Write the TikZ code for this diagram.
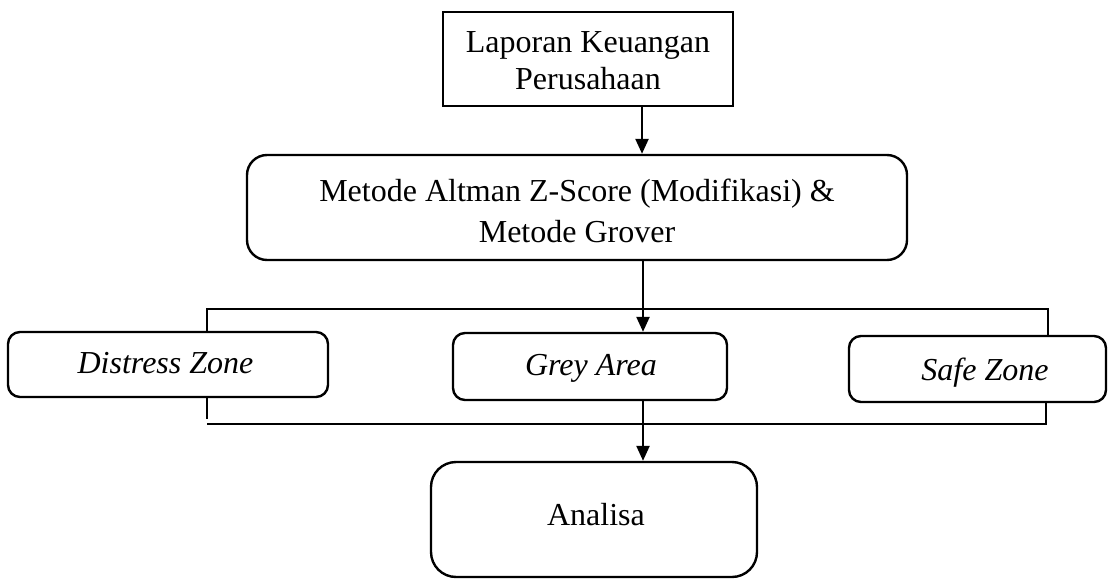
\documentclass[tikz,border=0pt]{standalone}
\usepackage{fontspec}
\setmainfont{Liberation Serif}
\usetikzlibrary{arrows.meta}
\begin{document}
\begin{tikzpicture}[x=1pt,y=-1pt,
  box/.style={draw,line width=2.4pt,inner sep=0pt},
  rbox/.style={box,rounded corners=#1},
  lbl/.style={anchor=base,align=center,inner sep=0pt},
  arr/.style={line width=2.4pt,-{Triangle[length=15pt,width=13pt]}},
  brk/.style={line width=1.4pt}]
\useasboundingbox (0,0) rectangle (1110,588);
% boxes
\node[box,minimum width=290pt,minimum height=94pt] (lap) at (588,59) {};
\node[rbox=20pt,minimum width=660pt,minimum height=105pt] (met) at (577,207.5) {};
\node[rbox=12pt,minimum width=320pt,minimum height=65pt] (dz) at (168,364.5) {};
\node[rbox=12pt,minimum width=274pt,minimum height=67pt] (ga) at (590,366.5) {};
\node[rbox=12pt,minimum width=257pt,minimum height=66pt] (sz) at (977.5,369) {};
\node[rbox=25pt,minimum width=326pt,minimum height=115pt] (ana) at (594,519.5) {};
% texts (base = baseline of the last line)
\node[lbl,font=\fontsize{32}{37}\selectfont] (lapT) at (588,90) {Laporan Keuangan\\Perusahaan};
\node[lbl,font=\fontsize{32}{41}\selectfont] (metT) at (577,242) {Metode Altman Z-Score (Modifikasi) \&\\Metode Grover};
\node[lbl,font=\fontsize{32}{37}\selectfont\itshape] (dzT) at (165.5,373) {Distress Zone};
\node[lbl,font=\fontsize{32}{37}\selectfont\itshape] (gaT) at (591,375) {Grey Area};
\node[lbl,font=\fontsize{32}{37}\selectfont\itshape] (szT) at (985,380) {Safe Zone};
\node[lbl,font=\fontsize{32}{37}\selectfont] (anaT) at (596,525) {Analisa};
% connectors
\coordinate (tl) at (207,309);
\coordinate (tr) at (1048,309);
\coordinate (bl) at (207,424);
\coordinate (br) at (1046,424);
\coordinate (a1) at (642,0);
\coordinate (a2) at (643,0);
\draw[arr] (lap.south -| a1) -- (met.north -| a1);
\draw[arr] (met.south -| a2) -- (ga.north -| a2);
\draw[arr] (ga.south -| a2) -- (ana.north -| a2);
\draw[brk] (dz.north -| tl) -- (tl) -- (tr) -- (sz.north -| tr);
\draw[brk] (dz.south -| bl) -- ++(0,21);
\draw[brk] (bl) -- (br) -- (sz.south -| br);
\end{tikzpicture}
\end{document}
